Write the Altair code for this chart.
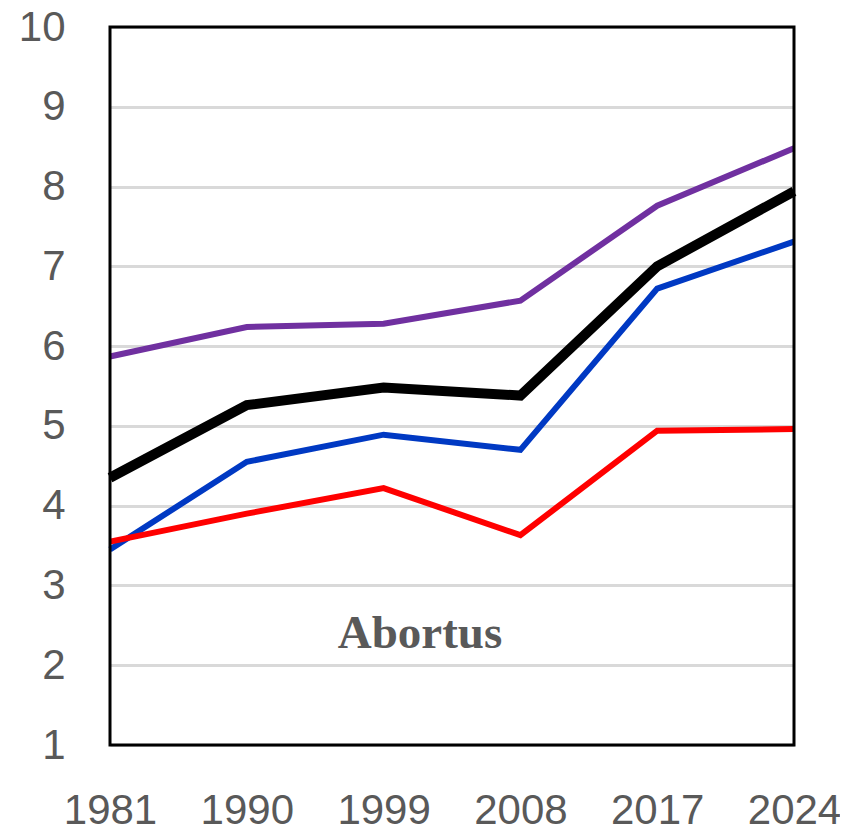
import altair as alt
import pandas as pd

years = ["1981", "1990", "1999", "2008", "2017", "2024"]
purple = [5.87, 6.24, 6.28, 6.57, 7.76, 8.48]
black = [4.35, 5.26, 5.48, 5.38, 7.00, 7.94]
blue = [3.45, 4.55, 4.89, 4.70, 6.72, 7.31]
red = [3.55, 3.90, 4.22, 3.63, 4.94, 4.96]
y_ticks = [1, 2, 3, 4, 5, 6, 7, 8, 9, 10]
label_text = "Abortus"
label_y = 2.22

W, H = 684, 718

series = [
    ("blue", blue, "#0039c3", 6),
    ("red", red, "#ff0000", 6),
    ("purple", purple, "#7030a0", 6),
    ("black", black, "#000000", 10),
]

rows = []
for name, vals, _, _ in series:
    for yr, v in zip(years, vals):
        rows.append({"year": yr, "value": v, "series": name})
df = pd.DataFrame(rows)

xenc = alt.X("year:O", sort=years,
             scale=alt.Scale(type="point", padding=0),
             axis=alt.Axis(title=None, labelAngle=0, ticks=False, domain=False,
                           grid=False, labelFontSize=42, labelColor="#595959",
                           labelFont="Liberation Sans", labelPadding=45,
                           labelBaseline="top"))
yenc = alt.Y("value:Q", scale=alt.Scale(domain=[1, 10], nice=False, zero=False),
             axis=alt.Axis(title=None, values=y_ticks, format="d", ticks=False,
                           domain=False, grid=True, gridColor="#d9d9d9", gridWidth=3,
                           labelFontSize=42, labelColor="#595959",
                           labelFont="Liberation Sans", labelPadding=45,
                           labelBaseline="middle"))

layers = []
for name, _, col, w in series:
    layers.append(
        alt.Chart(df).transform_filter(alt.datum.series == name)
        .mark_line(color=col, strokeWidth=w, strokeCap="butt", strokeJoin="miter")
        .encode(x=xenc, y=yenc)
    )

frame = alt.Chart(pd.DataFrame({"f": [0]})).mark_rect(
    fillOpacity=0, stroke="black", strokeWidth=3
).encode(x=alt.value(0), x2=alt.value(W), y=alt.value(0), y2=alt.value(H))

txt = alt.Chart(pd.DataFrame({"t": [label_text], "v": [label_y]})).mark_text(
    font="Liberation Serif", fontWeight="bold", fontSize=47, color="#595959",
    align="center", baseline="alphabetic"
).encode(x=alt.value(310), y=alt.Y("v:Q"), text="t:N")

chart = alt.layer(*layers, frame, txt).properties(
    width=W, height=H,
    autosize=alt.AutoSizeParams(type="none"),
    padding={"left": 102, "top": 19, "right": 46, "bottom": 80},
    background="white",
).configure_view(stroke=None)

chart.save("out.html", embed_options={"renderer": "svg", "actions": False})
